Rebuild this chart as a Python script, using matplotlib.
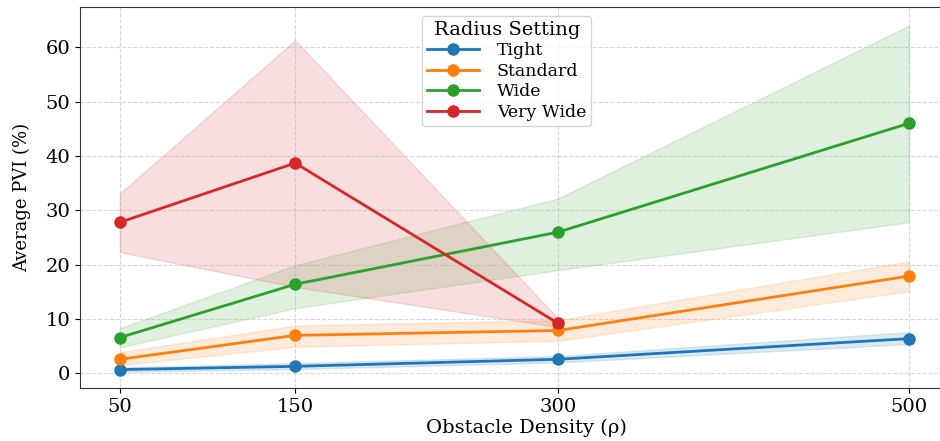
import numpy as np
import matplotlib
matplotlib.use("Agg")
from matplotlib import pyplot as plt

plt.rcParams['font.family'] = ['DejaVu Serif']

# 障碍物密度
density = [50, 150, 300, 500]

# 各半径设置下的平均 PVI 及其上下界
tight = [0.7, 1.3, 2.6, 6.4]
tight_lo = [0.3, 0.8, 2.0, 5.4]
tight_hi = [1.1, 1.9, 3.2, 7.6]

standard = [2.6, 7.0, 7.9, 17.9]
standard_lo = [1.5, 4.9, 6.0, 15.1]
standard_hi = [3.9, 8.8, 9.8, 20.6]

wide = [6.6, 16.4, 26.0, 46.0]
wide_lo = [4.8, 12.0, 19.0, 27.8]
wide_hi = [8.3, 19.9, 32.2, 64.0]

very_wide_x = [50, 150, 300]
very_wide = [27.8, 38.7, 9.2]
very_wide_lo = [22.3, 15.9, 8.5]
very_wide_hi = [33.1, 61.3, 10.1]

labels = ["Tight", "Standard", "Wide", "Very Wide"]
colors = ["#1f77b4", "#ff7f0e", "#2ca02c", "#d62728"]

fig = plt.figure(figsize=(9.4, 4.41), dpi=100)
# 右侧坐标框超出画布 (参考图被裁剪)
ax = fig.add_axes([0.085, 0.12, 0.95, 0.864])

series = [
    (density, tight, tight_lo, tight_hi),
    (density, standard, standard_lo, standard_hi),
    (density, wide, wide_lo, wide_hi),
    (very_wide_x, very_wide, very_wide_lo, very_wide_hi),
]

for (x, y, lo, hi), lab, c in zip(series, labels, colors):
    ax.fill_between(x, lo, hi, color=c, alpha=0.15)
    ax.plot(x, y, marker="o", color=c, lw=2, ms=8, label=lab)

ax.set_xlim(27.2, 27.2 + 0.95 * 940 / 1.7533)
ax.set_ylim(-2.7, 67.4)
ax.set_xticks(density)
ax.tick_params(labelsize=14)
ax.grid(True, linestyle="--", alpha=0.5)
ax.set_xlabel("Obstacle Density (ρ)", fontsize=14, labelpad=2)
ax.set_ylabel("Average PVI (%)", fontsize=13, labelpad=10)
ax.spines["right"].set_visible(False)
for s in ax.spines.values():
    s.set_color("#333333")

leg = ax.legend(title="Radius Setting", loc="upper center", fontsize=12.5,
                title_fontsize=14, bbox_to_anchor=(0.478, 1.0),
                labelspacing=0.2, handlelength=3.0, handletextpad=1.0,
                borderpad=0.3)

plt.savefig("out.png", dpi=100)
